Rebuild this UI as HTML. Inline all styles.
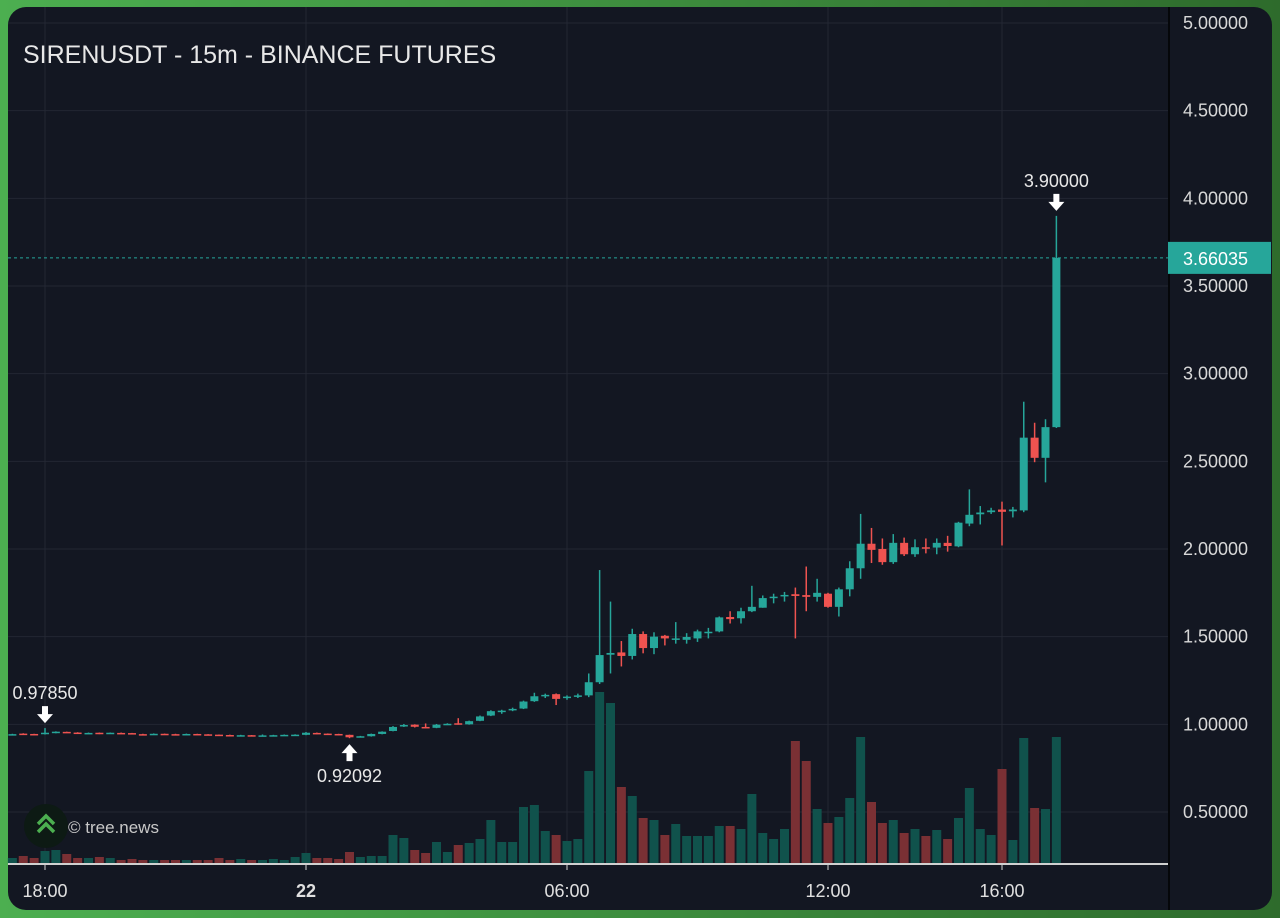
<!DOCTYPE html>
<html><head><meta charset="utf-8"><style>
html,body{margin:0;padding:0;width:1280px;height:918px;overflow:hidden;background:#4caf50;}
svg{display:block;font-family:"Liberation Sans",sans-serif;}
</style></head><body>
<svg id="chart" width="1280" height="918">
<defs><linearGradient id="bg" x1="0" y1="0" x2="1" y2="0"><stop offset="0" stop-color="#4caf50"/><stop offset="1" stop-color="#2e6b2c"/></linearGradient></defs>
<rect x="0" y="0" width="1280" height="918" fill="url(#bg)"/>
<rect x="8" y="7" width="1264" height="903" rx="18" fill="#131722"/>
<g id="grid"></g><g id="vols"></g><g id="candles"></g><g id="axes"></g><g id="annot"></g>
<text x="23" y="63" font-size="25" fill="#e8e8e8">SIRENUSDT - 15m - BINANCE FUTURES</text>
<g>
<circle cx="46" cy="826" r="22" fill="#0d1a14"/>
<path d="M38 824 L46 816 L54 824 M38 832 L46 824 L54 832" stroke="#4caf50" stroke-width="3.5" fill="none"/>
<text x="68" y="833" font-size="17" fill="#c8c8c8">© tree.news</text>
</g>
</svg>
<script>
const opens=[.940,.947,.945,.944,.950,.957,.953,.950,.952,.946,.951,.950,.944,.942,.946,.944,.942,.945,.943,.941,.939,.936,.938,.935,.937,.938,.939,.940,.951,.947,.945,.940,.930,.932,.945,.962,.988,.998,.985,.980,.998,1.006,1.000,1.020,1.050,1.075,1.080,
1.090,1.132,1.160,1.172,1.150,1.158,1.165,1.240,1.397,1.410,1.390,1.515,1.435,1.505,1.485,1.482,1.490,1.522,1.530,1.612,1.605,1.645,1.665,1.720,1.730,1.742,1.737,1.727,1.745,1.670,1.770,1.890,2.030,2.000,1.925,2.035,1.970,2.010,2.008,2.035,2.015,2.145,2.198,2.210,2.225,2.215,2.220,2.635,2.520,2.695];
const closes=[.944,.943,.940,.952,.958,.953,.950,.951,.946,.952,.949,.944,.942,.946,.943,.942,.945,.942,.940,.938,.936,.938,.935,.937,.938,.940,.941,.952,.946,.944,.940,.926,.932,.945,.958,.985,.996,.986,.980,.998,1.003,1.000,1.018,1.045,1.075,1.078,1.088,
1.130,1.160,1.168,1.145,1.158,1.165,1.240,1.395,1.407,1.390,1.515,1.435,1.500,1.490,1.490,1.498,1.530,1.528,1.610,1.600,1.645,1.670,1.720,1.728,1.738,1.732,1.727,1.750,1.670,1.770,1.890,2.030,1.995,1.925,2.035,1.970,2.010,2.003,2.035,2.017,2.150,2.195,2.208,2.220,2.212,2.225,2.635,2.520,2.695,3.66035];
const highs=[.946,.949,.946,.9785,.960,.958,.955,.953,.953,.953,.953,.951,.946,.948,.947,.946,.947,.946,.944,.942,.941,.940,.939,.942,.940,.942,.943,.956,.953,.948,.946,.941,.934,.947,.960,.990,1.002,1.000,1.005,1.002,1.006,1.035,1.021,1.050,1.080,1.083,1.095,
1.135,1.180,1.175,1.176,1.165,1.175,1.290,1.880,1.700,1.475,1.545,1.530,1.525,1.510,1.583,1.520,1.540,1.550,1.615,1.645,1.665,1.790,1.735,1.745,1.755,1.780,1.900,1.830,1.750,1.780,1.930,2.200,2.120,2.060,2.085,2.065,2.055,2.060,2.060,2.075,2.155,2.340,2.245,2.235,2.270,2.240,2.840,2.720,2.740,3.900];
const lows=[.938,.941,.938,.942,.949,.951,.948,.948,.944,.945,.947,.942,.940,.941,.941,.938,.941,.940,.938,.934,.934,.934,.933,.934,.935,.936,.937,.938,.944,.942,.938,.9209,.926,.930,.943,.960,.985,.982,.978,.978,.996,.998,.998,1.018,1.047,1.060,1.075,
1.087,1.128,1.150,1.110,1.140,1.150,1.155,1.230,1.290,1.330,1.370,1.405,1.400,1.450,1.460,1.460,1.470,1.490,1.525,1.575,1.575,1.640,1.665,1.690,1.700,1.490,1.645,1.700,1.665,1.615,1.730,1.830,1.920,1.910,1.915,1.960,1.955,1.975,1.970,1.985,2.010,2.130,2.140,2.200,2.020,2.180,2.210,2.495,2.380,2.690];
const volumes=[5,7,5,12,13,9,5,5,6,5,3,4,3,3,3,3,3,3,3,5,3,4,3,3,4,3,6,10,5,5,4,11,6,7,7,28,25,13,10,21,11,18,20,24,43,21,21,56,58,32,28,22,24,92,171,160,76,67,45,43,28,39,27,27,27,37,37,34,69,30,24,34,122,102,54,40,46,65,126,61,40,43,30,34,27,33,24,45,75,34,28,94,23,125,55,54,126];
const firstIndex=-3;
const priceTicks=[5,4.5,4,3.5,3,2.5,2,1.5,1,0.5];
const timeTicks=[0,24,48,72,88];
const timeLabels=["18:00","22","06:00","12:00","16:00"];
const lastPrice=3.66035;
const NS="http://www.w3.org/2000/svg";
function xOf(i){return 45+10.875*(i+firstIndex);}
function yOf(p){return 23+(5-p)*175.33;}
function yVol(v){return 863-v;}
function mk(tag,attrs,parent){const e=document.createElementNS(NS,tag);for(const k in attrs)e.setAttribute(k,attrs[k]);document.getElementById(parent).appendChild(e);return e;}
priceTicks.forEach(p=>{
 const l=mk('line',{x1:8,x2:1168,y1:yOf(p),y2:yOf(p),stroke:'#232733','stroke-width':1},'grid');
 
 
 const t=mk('text',{x:1183,y:yOf(p)+6,'font-size':18,fill:'#d8d8d8'},'axes');
 t.textContent=p.toFixed(5);
 
 
});
timeTicks.forEach((ti,k)=>{
 const x=xOf(ti-firstIndex);
 const l=mk('line',{x1:x,x2:x,y1:7,y2:863,stroke:'#232733','stroke-width':1},'grid');
 
 
 mk('line',{x1:x,x2:x,y1:864,y2:870,stroke:'#d0d0d0','stroke-width':1},'axes');
 const t=mk('text',{x:x,y:897,'font-size':18,fill:'#e0e0e0','text-anchor':'middle','font-weight':timeLabels[k]==='22'?'bold':'normal'},'axes');
 t.textContent=timeLabels[k];
 
 
});
mk('line',{x1:8,x2:1168,y1:864,y2:864,stroke:'#d0d0d0','stroke-width':2},'axes');
mk('line',{x1:1169,x2:1169,y1:7,y2:910,stroke:'#05070a','stroke-width':2},'axes');
opens.forEach((o,i)=>{
 const c=closes[i],up=c>=o,x=xOf(i);
 const col=up?'#26a69a':'#ef5350';
 const vb=mk('rect',{x:x-4.5,y:yVol(volumes[i]),width:9,height:volumes[i],fill:up?'#10524c':'#7a3034'},'vols');
 
 
 const w=mk('line',{x1:x,x2:x,y1:yOf(highs[i]),y2:yOf(lows[i]),stroke:col,'stroke-width':1.5},'candles');
 
 
 const top=yOf(Math.max(o,c)),h=Math.max(1.5,yOf(Math.min(o,c))-top);
 const b=mk('rect',{x:x-4,y:top,width:8,height:h,fill:col},'candles');
 
 
});
const ly=yOf(lastPrice);
mk('line',{x1:8,x2:1168,y1:ly,y2:ly,stroke:'#26a69a','stroke-width':1,'stroke-dasharray':'3,3'},'annot');
const lb=mk('rect',{x:1168,y:ly-16,width:103,height:32,fill:'#26a69a'},'annot');


const lt=mk('text',{x:1183,y:ly+7,'font-size':18,fill:'#ffffff'},'annot');
lt.textContent=lastPrice.toFixed(5);
function marker(i,price,down,label){
 const x=xOf(i-firstIndex);
 let ay,ty;
 if(down){ay=yOf(price)-13;ty=ay-16;}else{ay=yOf(price)+14;ty=ay+30;}
 const d=down?`M${x-3} ${ay-9}h6v8h5l-8 9l-8-9h5z`:`M${x-3} ${ay+9}h6v-8h5l-8-9l-8 9h5z`;
 const a=mk('path',{d:d,fill:'#ffffff'},'annot');
 
 
 const t=mk('text',{x:x,y:ty,'font-size':18,fill:'#e8e8e8','text-anchor':'middle'},'annot');
 t.textContent=label;
 
 
}
marker(93,3.90,true,"3.90000");
marker(0,0.9785,true,"0.97850");
marker(28,0.92092,false,"0.92092");
</script>
</body></html>
